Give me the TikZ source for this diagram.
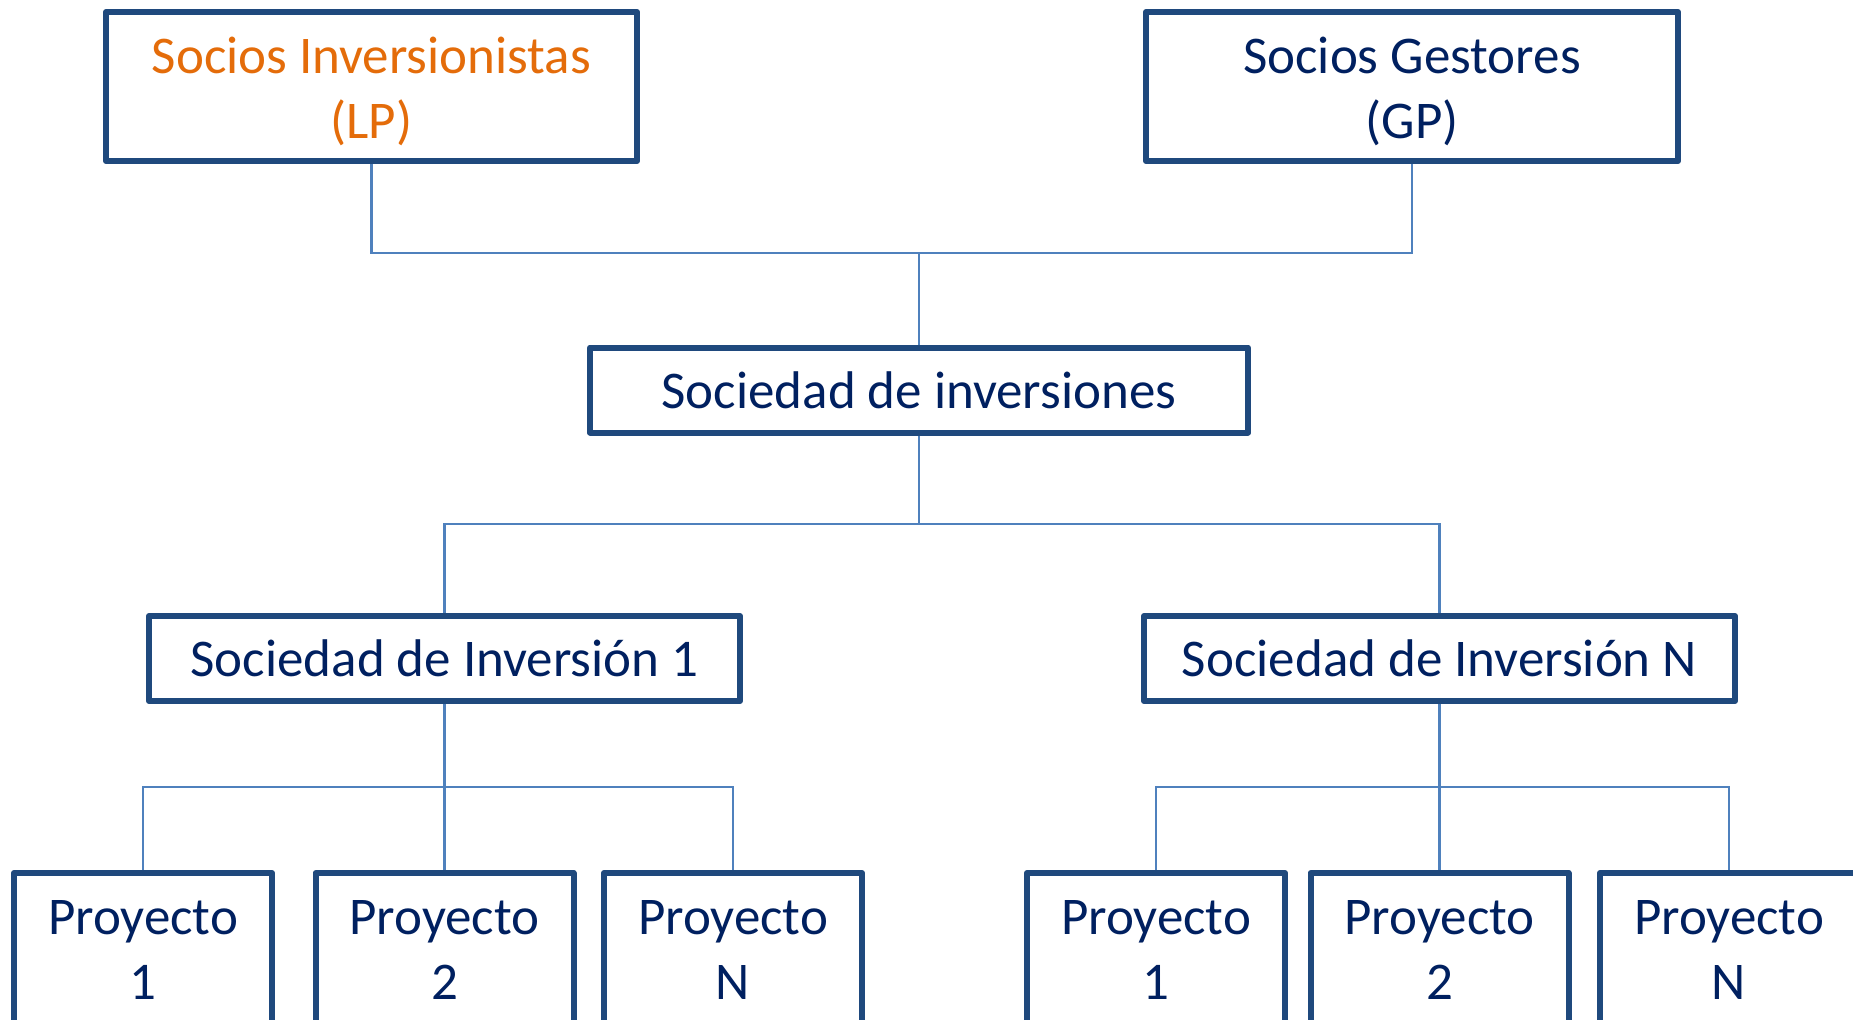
\documentclass[tikz,border=0pt]{standalone}
\usepackage{fontspec}
\setmainfont{Carlito}
\definecolor{boxblue}{HTML}{1F497D}
\definecolor{linkblue}{HTML}{4F81BD}
\definecolor{navytext}{HTML}{002060}
\definecolor{orangetext}{HTML}{E46C0A}
\newcommand{\highstrut}{\rule{0pt}{46pt}}
\begin{document}
\begin{tikzpicture}[x=1pt,y=-1pt,
  box/.style={draw=boxblue, line width=6pt, line join=round, fill=white,
    text=navytext, align=center, inner sep=0pt,
    font=\fontsize{53}{65}\selectfont},
  conn/.style={draw=linkblue, line width=2.2pt}]
\useasboundingbox (0,0) rectangle (1853,1020);
\clip (0,0) rectangle (1853,1020);
\fill[white] (0,0) rectangle (1853,1020);
% top level
\node[box, text=orangetext, minimum width=531pt, minimum height=149pt] (lp) at (371.5,86.5) {\highstrut Socios Inversionistas\\(LP)};
\node[box, minimum width=532pt, minimum height=149pt] (gp) at (1412,86.5) {\highstrut Socios Gestores\\(GP)};
% middle
\node[box, minimum width=658pt, minimum height=85pt] (soc) at (919,390) {Sociedad de inversiones};
% second level
\node[box, minimum width=591pt, minimum height=85pt] (si1) at (444.5,658.5) {Sociedad de Inversión 1};
\node[box, minimum width=591pt, minimum height=85pt] (sin) at (1439.5,658.5) {Sociedad de Inversión N};
% projects
\node[box, minimum width=258pt, minimum height=154pt] (p11) at (143,950) {Proyecto\\1};
\node[box, minimum width=258pt, minimum height=154pt] (p12) at (444.5,950) {Proyecto\\2};
\node[box, minimum width=258pt, minimum height=154pt] (p1n) at (733,950) {Proyecto\\N};
\node[box, minimum width=258pt, minimum height=154pt] (p21) at (1156,950) {Proyecto\\1};
\node[box, minimum width=258pt, minimum height=154pt] (p22) at (1439.5,950) {Proyecto\\2};
\node[box, minimum width=258pt, minimum height=154pt] (p2n) at (1729,950) {Proyecto\\N};
% junctions
\coordinate (j1) at (919,253);
\coordinate (j2) at (919,524);
\coordinate (j3) at (444.5,787);
\coordinate (j4) at (1439.5,787);
% connectors
\draw[conn] (lp.south) |- (j1) -| (gp.south);
\draw[conn] (j1) -- (soc.north);
\draw[conn] (soc.south) -- (j2);
\draw[conn] (si1.north) |- (j2) -| (sin.north);
\draw[conn] (si1.south) -- (j3);
\draw[conn] (p11.north) |- (j3) -| (p1n.north);
\draw[conn] (j3) -- (p12.north);
\draw[conn] (sin.south) -- (j4);
\draw[conn] (p21.north) |- (j4) -| (p2n.north);
\draw[conn] (j4) -- (p22.north);
\end{tikzpicture}
\end{document}
